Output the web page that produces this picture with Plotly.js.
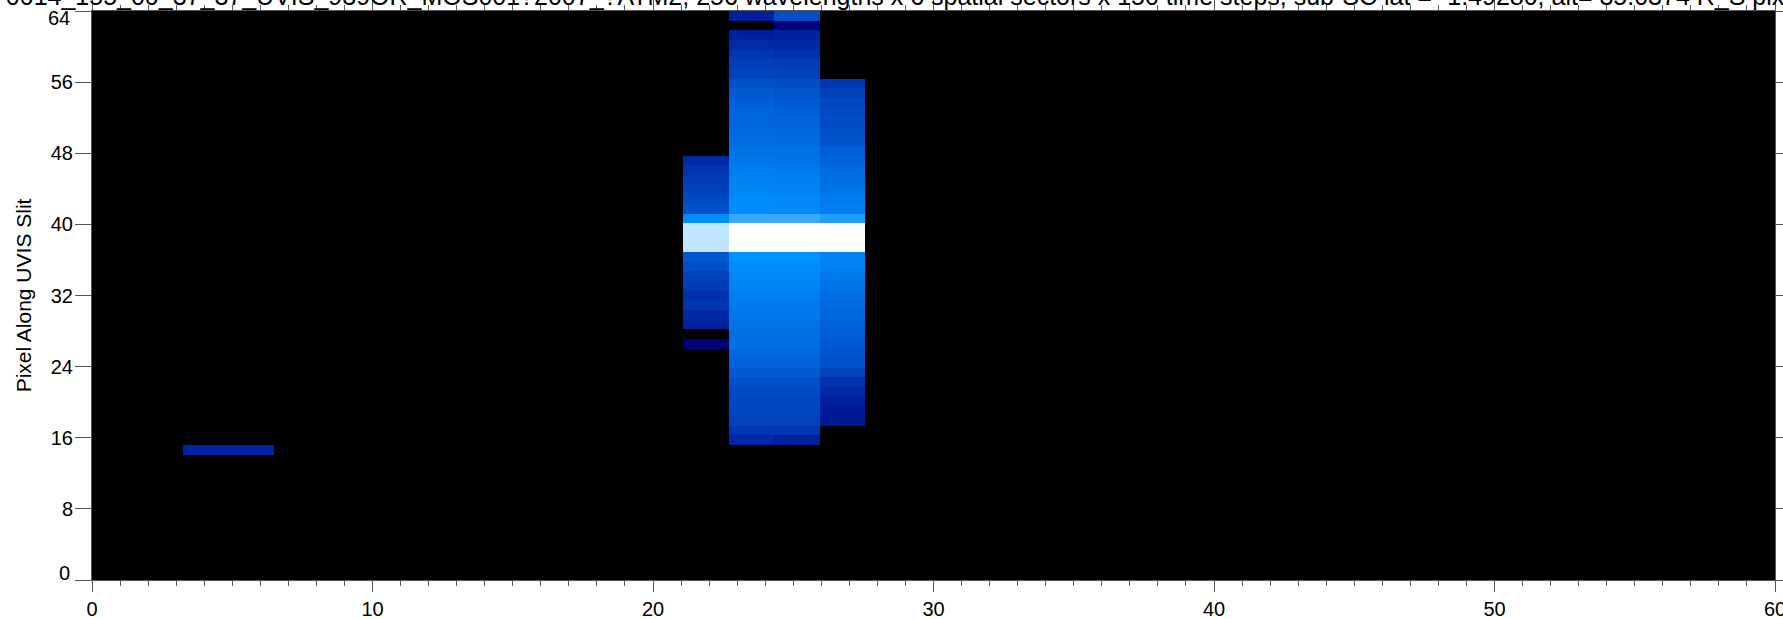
<!DOCTYPE html>
<html><head><meta charset="utf-8">
<script src="https://cdn.plot.ly/plotly-3.0.1.min.js"></script>
<style>html,body{margin:0;padding:0;background:#fff;overflow:hidden}</style>
</head><body><div id="chart" style="width:1783px;height:619px"></div>
<script>
const titleText = "0014_155_00_37_37_UVIS_939OR_MOS001?2007_?ATM2, 256 wavelengths x 6 spatial sectors x 150 time steps, sub-SC lat = -1.49280, alt= 35.0374 R_S pix";
const yTitle = "Pixel Along UVIS Slit";
const timeBins = 37, slitBins = 59, xMax = 60, yMax = 64;
const xTicks = [0,10,20,30,40,50,60];
const yTicks = [8,16,24,32,40,48,56];

// Brightness levels, listed from the top row of each run downward
const col2  = {bin:2,  top:13, values:[28]};
const col3  = {bin:3,  top:13, values:[28]};
const col13 = {bin:13, top:43, values:[30.5,36.5,40,42.5,46,49.5,80,96,96,96,54,48.5,42.5,40,34,36.5,30,27,0,10]};
const col14 = {bin:14, top:58, values:[25.5,0,25,31.5,37,41.5,44.5,49.5,55,57.5,60,61,62.5,64,67,69,72.5,75,77,79.5,80,87,100,100,100,83,80.5,78,76,73,71.5,70,68,66,65.5,62,59,55.5,50,47.5,46,45,43,36,30]};
const col15 = {bin:15, top:58, values:[49.5,10,28,30.5,34.5,40,42.5,48.5,52.5,55.5,58,60,61.5,63,66,68,71,73.5,75.5,78,79,87,100,100,100,83,80.5,78,76,73,71.5,70,68,66,65.5,62,59,55.5,50,47.5,46,45,43,36,25.5]};
const col16 = {bin:16, top:51, values:[37,41.5,46,47.5,48.5,49.5,51.5,57.5,60.5,63,66,68.5,71.5,72.5,85,100,100,100,76,74,70.5,68,65.5,63.5,61,59,57,54.5,52.5,50,43.5,35,30,25.5,23,23]};
const columns = [col2,col3,col13,col14,col15,col16];

const z = [];
for (let r=0;r<slitBins;r++) z.push(new Array(timeBins).fill(0));
columns.forEach(c=>c.values.forEach((v,k)=>{ z[c.top-k][c.bin]=v; }));

const colors = [[0,'#000000'],[0.10,'rgb(0,0,120)'],[0.255,'rgb(0,31,156)'],[0.37,'rgb(0,54,178)'],
 [0.495,'rgb(0,79,200)'],[0.60,'rgb(0,100,218)'],[0.69,'rgb(0,118,232)'],[0.75,'rgb(0,130,243)'],
 [0.83,'rgb(0,146,255)'],[0.87,'rgb(58,170,255)'],[0.96,'rgb(192,229,255)'],[1,'#ffffff']];

const dx = xMax/timeBins, dy = yMax/slitBins;
const tickFont = {family:'"Liberation Sans",Arial,sans-serif', size:20, color:'#000'};
const axisColor = '#555';

Plotly.newPlot('chart',[{
  type:'heatmap', z, x0:dx/2, dx, y0:dy/2, dy, zmin:0, zmax:100, zsmooth:false,
  colorscale:colors, showscale:false, hoverongaps:false
}],{
  width:1783, height:619, autosize:false,
  margin:{l:92,r:8,t:10.5,b:39,pad:0},
  paper_bgcolor:'#fff', plot_bgcolor:'#000', showlegend:false,
  title:{text:titleText, font:{family:'"Liberation Sans",Arial,sans-serif',size:25,color:'#000'},
         x:0.502, xanchor:'center', xref:'container', y:0.992, yref:'container', yanchor:'bottom', pad:{t:0,b:0}},
  xaxis:{range:[0,xMax], tickmode:'array', tickvals:xTicks, ticks:'outside', ticklen:11, tickwidth:1, tickcolor:axisColor,
    minor:{dtick:1, ticks:'outside', ticklen:5, tickwidth:1, tickcolor:axisColor}, ticklabeloverflow:'allow',
    showline:true, linecolor:axisColor, linewidth:1, mirror:'allticks', showgrid:false, zeroline:false, tickfont:tickFont},
  yaxis:{range:[0,yMax], tickmode:'array', tickvals:[0].concat(yTicks,[64]), ticktext:[' '].concat(yTicks.map(String),[' ']),
    ticks:'outside', ticklen:16, tickwidth:1, tickcolor:axisColor, ticklabelstandoff:-2,
    showline:true, linecolor:axisColor, linewidth:1, mirror:'allticks', showgrid:false, zeroline:false, tickfont:tickFont,
    title:{text:yTitle, font:{family:'"Liberation Sans",Arial,sans-serif',size:21,color:'#000'}, standoff:13}},
  annotations:[
    {text:'0', xref:'paper', yref:'y', x:0, y:0, xanchor:'right', yanchor:'middle', xshift:-20, yshift:7, showarrow:false, font:tickFont},
    {text:'64', xref:'paper', yref:'y', x:0, y:64, xanchor:'right', yanchor:'middle', xshift:-20, yshift:-7, showarrow:false, font:tickFont}
  ]
},{staticPlot:true,displayModeBar:false});
</script></body></html>
